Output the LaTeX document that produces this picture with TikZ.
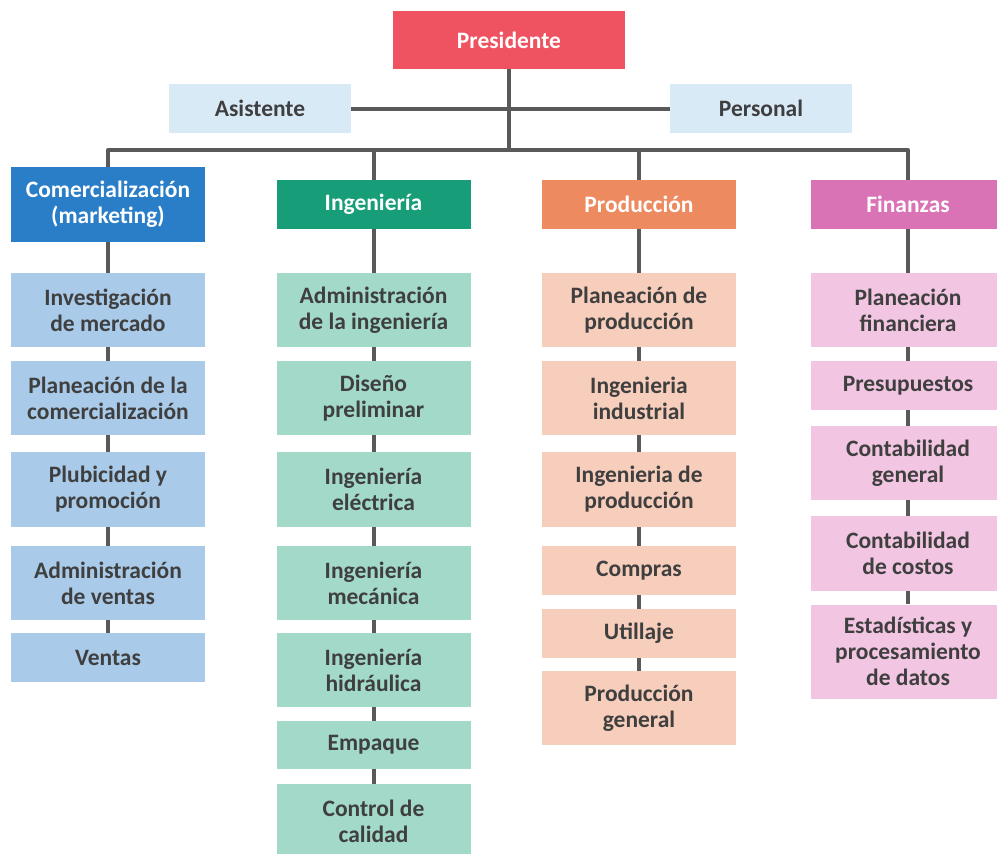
\documentclass[tikz,border=0pt]{standalone}
\usepackage{fontspec}
\setmainfont{Carlito}
\definecolor{linea}{HTML}{595959}
\definecolor{texto}{HTML}{3F3F3F}
\definecolor{rojo}{HTML}{EF5361}
\definecolor{celeste}{HTML}{D9EAF7}
\definecolor{azul}{HTML}{2A7DC7}
\definecolor{verde}{HTML}{179E79}
\definecolor{naranja}{HTML}{EE8A5F}
\definecolor{rosa}{HTML}{DA72B6}
\definecolor{azulc}{HTML}{A9CBE9}
\definecolor{verdec}{HTML}{A2D9C9}
\definecolor{naranjac}{HTML}{F7CDBC}
\definecolor{rosac}{HTML}{F2C6E2}
\begin{document}
\begin{tikzpicture}[x=1pt, y=-1pt, line join=round,
	caja/.style={minimum width=194pt, inner sep=0pt, align=center, text=texto,
		font=\bfseries\fontsize{23.5}{26}\selectfont},
	jefe/.style={caja, text=white},
	union/.style={draw=linea, line width=4pt}]
	\useasboundingbox (0,0) rectangle (997,854);
	% direccion
	\node[jefe, fill=rojo, minimum width=232pt, minimum height=58pt] (pres) at (509,40) {Presidente};
	\node[caja, fill=celeste, minimum width=182pt, minimum height=49pt] (asis) at (260,108.5) {Asistente};
	\node[caja, fill=celeste, minimum width=182pt, minimum height=49pt] (pers) at (761,108.5) {Personal};
	\path (509,150) coordinate (bus);
	% departamentos
	\node[jefe, fill=azul, minimum height=75pt] (com) at (108,204.5) {Comercialización\\(marketing)};
	\node[jefe, fill=verde, minimum height=49pt] (ing) at (373.5,204.5) {Ingeniería};
	\node[jefe, fill=naranja, minimum height=49pt] (pro) at (639,204.5) {Producción};
	\node[jefe, fill=rosa, minimum height=49pt] (fin) at (908,204.5) {Finanzas};
	% comercializacion
	\foreach \n/\y/\h/\t in {1/310/74/{Investigación\\de mercado},
		2/398/74/{Planeación de la\\comercialización},
		3/489.5/75/{Plubicidad y\\promoción},
		4/583/74/{Administración\\de ventas},
		5/657.5/49/{Ventas}}
	\node[caja, fill=azulc, minimum height=\h pt] (com\n) at (108,\y) {\t};
	% ingenieria
	\foreach \n/\y/\h/\t in {1/310/74/{Administración\\de la ingeniería},
		2/398/74/{Diseño\\preliminar},
		3/489.5/75/{Ingeniería\\eléctrica},
		4/583/74/{Ingeniería\\mecánica},
		5/670/74/{Ingeniería\\hidráulica},
		6/745/48/{Empaque},
		7/821/74/{Control de\\calidad}}
	\node[caja, fill=verdec, minimum height=\h pt] (ing\n) at (373.5,\y) {\t};
	% produccion
	\foreach \n/\y/\h/\t in {1/310/74/{Planeación de\\producción},
		2/398/74/{Ingenieria\\industrial},
		3/489.5/75/{Ingenieria de\\producción},
		4/570.5/49/{Compras},
		5/633.5/49/{Utillaje},
		6/708/74/{Producción\\general}}
	\node[caja, fill=naranjac, minimum height=\h pt] (pro\n) at (639,\y) {\t};
	% finanzas
	\foreach \n/\y/\h/\t in {1/310/74/{Planeación\\financiera},
		2/385.5/49/{Presupuestos},
		3/463/74/{Contabilidad\\general},
		4/553.5/75/{Contabilidad\\de costos},
		5/651.5/94/{Estadísticas y\\procesamiento\\de datos}}
	\node[caja, fill=rosac, minimum height=\h pt] (fin\n) at (908,\y) {\t};
	% lineas
	\draw[union] (pres) -- (bus) (asis) -- (pers);
	\draw[union] (com) |- (bus) -| (fin.north);
	\draw[union] (ing) -- (ing|-bus) (pro) -- (pro|-bus);
	\foreach \a/\b in {com/com1,com1/com2,com2/com3,com3/com4,com4/com5,
		ing/ing1,ing1/ing2,ing2/ing3,ing3/ing4,ing4/ing5,ing5/ing6,ing6/ing7,
		pro/pro1,pro1/pro2,pro2/pro3,pro3/pro4,pro4/pro5,pro5/pro6,
		fin/fin1,fin1/fin2,fin2/fin3,fin3/fin4,fin4/fin5}
	\draw[union] (\a) -- (\b);
\end{tikzpicture}
\end{document}
